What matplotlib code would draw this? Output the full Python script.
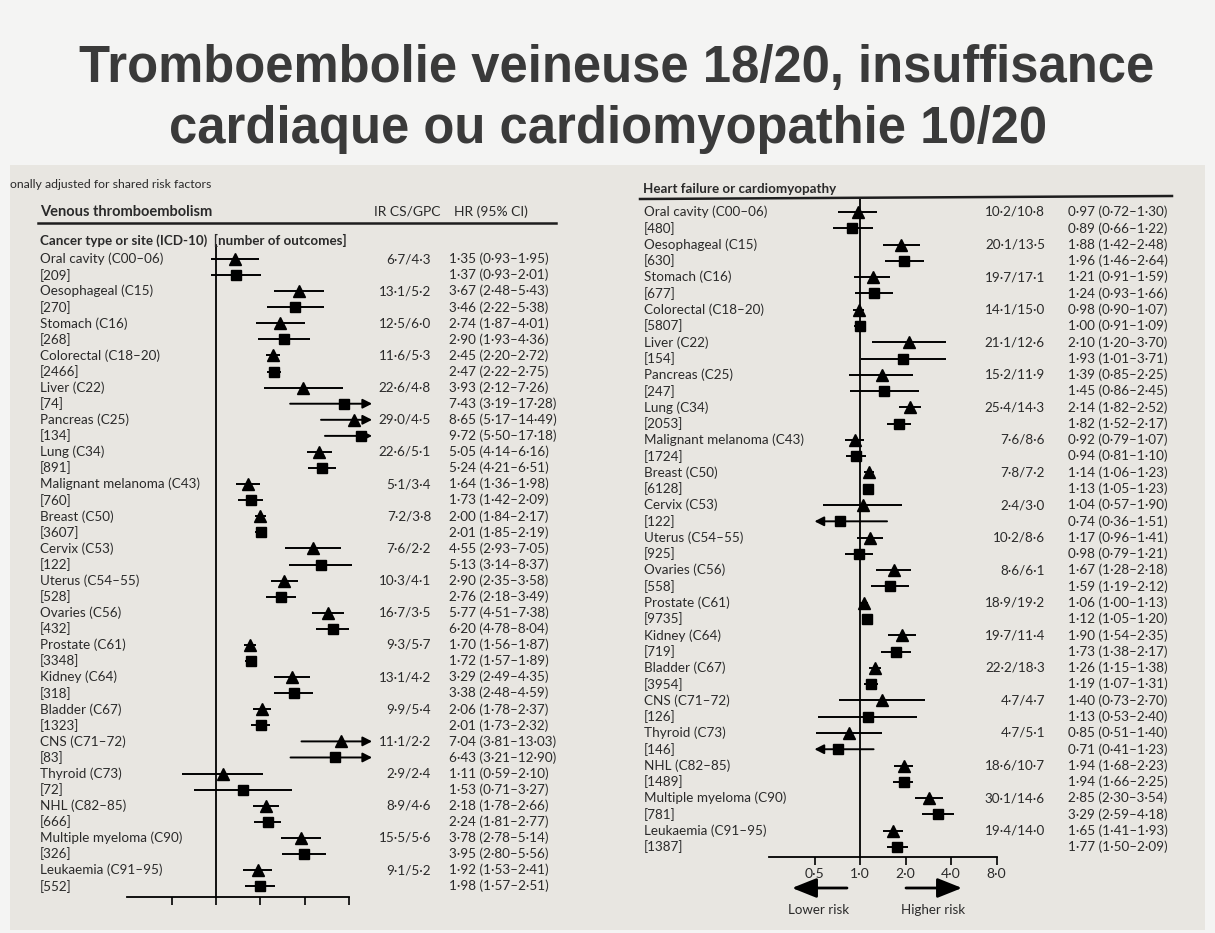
import matplotlib
matplotlib.use('Agg')
import matplotlib.pyplot as plt
from matplotlib.patches import Rectangle, FancyArrowPatch
from matplotlib.ticker import NullLocator, FixedLocator, FixedFormatter
from matplotlib.transforms import blended_transform_factory

# ---------------- data ----------------
cancers = ["Oral cavity (C00–06)", "Oesophageal (C15)", "Stomach (C16)", "Colorectal (C18–20)",
           "Liver (C22)", "Pancreas (C25)", "Lung (C34)", "Malignant melanoma (C43)", "Breast (C50)",
           "Cervix (C53)", "Uterus (C54–55)", "Ovaries (C56)", "Prostate (C61)", "Kidney (C64)",
           "Bladder (C67)", "CNS (C71–72)", "Thyroid (C73)", "NHL (C82–85)",
           "Multiple myeloma (C90)", "Leukaemia (C91–95)"]

# Venous thromboembolism
vte_n = [209, 270, 268, 2466, 74, 134, 891, 760, 3607, 122, 528, 432, 3348, 318, 1323, 83, 72, 666, 326, 552]
vte_ir = ["6·7/4·3", "13·1/5·2", "12·5/6·0", "11·6/5·3", "22·6/4·8", "29·0/4·5", "22·6/5·1", "5·1/3·4",
          "7·2/3·8", "7·6/2·2", "10·3/4·1", "16·7/3·5", "9·3/5·7", "13·1/4·2", "9·9/5·4", "11·1/2·2",
          "2·9/2·4", "8·9/4·6", "15·5/5·6", "9·1/5·2"]
vte_tri = [1.35, 3.67, 2.74, 2.45, 3.93, 8.65, 5.05, 1.64, 2.00, 4.55, 2.90, 5.77, 1.70, 3.29, 2.06, 7.04, 1.11, 2.18, 3.78, 1.92]
vte_tri_lo = [0.93, 2.48, 1.87, 2.20, 2.12, 5.17, 4.14, 1.36, 1.84, 2.93, 2.35, 4.51, 1.56, 2.49, 1.78, 3.81, 0.59, 1.78, 2.78, 1.53]
vte_tri_hi = [1.95, 5.43, 4.01, 2.72, 7.26, 14.49, 6.16, 1.98, 2.17, 7.05, 3.58, 7.38, 1.87, 4.35, 2.37, 13.03, 2.10, 2.66, 5.14, 2.41]
vte_sq = [1.37, 3.46, 2.90, 2.47, 7.43, 9.72, 5.24, 1.73, 2.01, 5.13, 2.76, 6.20, 1.72, 3.38, 2.01, 6.43, 1.53, 2.24, 3.95, 1.98]
vte_sq_lo = [0.93, 2.22, 1.93, 2.22, 3.19, 5.50, 4.21, 1.42, 1.85, 3.14, 2.18, 4.78, 1.57, 2.48, 1.73, 3.21, 0.71, 1.81, 2.80, 1.57]
vte_sq_hi = [2.01, 5.38, 4.36, 2.75, 17.28, 17.18, 6.51, 2.09, 2.19, 8.37, 3.49, 8.04, 1.89, 4.59, 2.32, 12.90, 3.27, 2.77, 5.56, 2.51]

# Heart failure or cardiomyopathy
hf_n = [480, 630, 677, 5807, 154, 247, 2053, 1724, 6128, 122, 925, 558, 9735, 719, 3954, 126, 146, 1489, 781, 1387]
hf_ir = ["10·2/10·8", "20·1/13·5", "19·7/17·1", "14·1/15·0", "21·1/12·6", "15·2/11·9", "25·4/14·3", "7·6/8·6",
         "7·8/7·2", "2·4/3·0", "10·2/8·6", "8·6/6·1", "18·9/19·2", "19·7/11·4", "22·2/18·3", "4·7/4·7",
         "4·7/5·1", "18·6/10·7", "30·1/14·6", "19·4/14·0"]
hf_tri = [0.97, 1.88, 1.21, 0.98, 2.10, 1.39, 2.14, 0.92, 1.14, 1.04, 1.17, 1.67, 1.06, 1.90, 1.26, 1.40, 0.85, 1.94, 2.85, 1.65]
hf_tri_lo = [0.72, 1.42, 0.91, 0.90, 1.20, 0.85, 1.82, 0.79, 1.06, 0.57, 0.96, 1.28, 1.00, 1.54, 1.15, 0.73, 0.51, 1.68, 2.30, 1.41]
hf_tri_hi = [1.30, 2.48, 1.59, 1.07, 3.70, 2.25, 2.52, 1.07, 1.23, 1.90, 1.41, 2.18, 1.13, 2.35, 1.38, 2.70, 1.40, 2.23, 3.54, 1.93]
hf_sq = [0.89, 1.96, 1.24, 1.00, 1.93, 1.45, 1.82, 0.94, 1.13, 0.74, 0.98, 1.59, 1.12, 1.73, 1.19, 1.13, 0.71, 1.94, 3.29, 1.77]
hf_sq_lo = [0.66, 1.46, 0.93, 0.91, 1.01, 0.86, 1.52, 0.81, 1.05, 0.36, 0.79, 1.19, 1.05, 1.38, 1.07, 0.53, 0.41, 1.66, 2.59, 1.50]
hf_sq_hi = [1.22, 2.64, 1.66, 1.09, 3.71, 2.45, 2.17, 1.10, 1.23, 1.51, 1.21, 2.12, 1.20, 2.17, 1.31, 2.40, 1.23, 2.25, 4.18, 2.09]

tick_vals = [0.5, 1, 2, 4, 8]
tick_labels = ["0·5", "1·0", "2·0", "4·0", "8·0"]

title_lines = ["Tromboembolie veineuse 18/20, insuffisance", "cardiaque ou cardiomyopathie 10/20"]

# ---------------- figure ----------------
W, H = 1215, 933
fig = plt.figure(figsize=(W / 100, H / 100), dpi=100)
fig.patch.set_facecolor('#f4f4f3')


def fx(px):
    return px / W


def fy(py):
    return 1 - py / H


fig.patches.append(Rectangle((fx(10), fy(930)), fx(1205) - fx(10), fy(165) - fy(930),
                             transform=fig.transFigure, facecolor='#e8e6e1', edgecolor='none', zorder=-5))

FONT = ['Lato', 'DejaVu Sans']
TXT = '#2a2a2a'
FS = 9.7

fig.text(fx(617), fy(68), title_lines[0], ha='center', va='center', fontsize=36.5, fontweight='bold',
         color='#3a3a3a', family=['Liberation Sans', 'DejaVu Sans'])
fig.text(fx(608), fy(130), title_lines[1], ha='center', va='center', fontsize=36.5, fontweight='bold',
         color='#3a3a3a', family=['Liberation Sans', 'DejaVu Sans'])


def make_axes(x_one_px, px_per_doubling, row0_px, row_step, ytop_px, ybot_px):
    x0 = x_one_px - 2 * px_per_doubling
    ax = fig.add_axes([fx(x0), fy(ybot_px), 6 * px_per_doubling / W, (ybot_px - ytop_px) / H])
    ax.set_xscale('log', base=2)
    ax.set_xlim(0.25, 16)

    def row(py):
        return (py - row0_px) / row_step
    ax.set_ylim(row(ybot_px), row(ytop_px))
    ax.set_autoscale_on(False)
    ax.patch.set_alpha(0)
    for s in ['top', 'right']:
        ax.spines[s].set_visible(False)
    ax.set_yticks([])
    ax.xaxis.set_minor_locator(NullLocator())
    return ax, row


def draw_ci(ax, lo, hi, r, lo_clip, hi_clip, tip_lo, tip_hi):
    ap = dict(arrowstyle='-|>,head_length=0.55,head_width=0.28', color='k', lw=1.4,
              shrinkA=0, shrinkB=0)
    if hi > hi_clip:
        ax.annotate('', xy=(tip_hi, r), xytext=(lo, r), arrowprops=ap, annotation_clip=False)
    elif lo < lo_clip:
        ax.annotate('', xy=(tip_lo, r), xytext=(hi, r), arrowprops=ap, annotation_clip=False)
    else:
        ax.plot([lo, hi], [r, r], color='k', lw=1.4, solid_capstyle='butt', clip_on=False)


def draw_panel(ax, tri, tlo, thi, sq, slo, shi, lo_clip, hi_clip, tip_lo, tip_hi):
    for i in range(len(tri)):
        rt, rs = 2 * i, 2 * i + 1
        draw_ci(ax, tlo[i], thi[i], rt, lo_clip, hi_clip, tip_lo, tip_hi)
        draw_ci(ax, slo[i], shi[i], rs, lo_clip, hi_clip, tip_lo, tip_hi)
        ax.plot([tri[i]], [rt], marker='^', ms=8.5, color='k', clip_on=False, zorder=3)
        ax.plot([sq[i]], [rs], marker='s', ms=7, color='k', clip_on=False, zorder=3)


def fmt(v, lo, hi):
    return f"{v:.2f} ({lo:.2f}–{hi:.2f})".replace('.', '·')


# ---------------- left panel: VTE ----------------
axL, rowL = make_axes(216, 44.3, 259, 16.08, 230, 910)
draw_panel(axL, vte_tri, vte_tri_lo, vte_tri_hi, vte_sq, vte_sq_lo, vte_sq_hi, 0.0, 9.0, 0.25, 11.5)
axL.spines['left'].set_position(('data', 1))
axL.spines['left'].set_bounds(rowL(897), rowL(245))
axL.spines['bottom'].set_position(('data', rowL(897)))
axL.spines['bottom'].set_bounds(0.25, 8)
axL.xaxis.set_major_locator(FixedLocator(tick_vals))
axL.xaxis.set_major_formatter(FixedFormatter([''] * len(tick_vals)))
axL.tick_params(axis='x', direction='out', length=6, width=1.2)
for s in ['left', 'bottom']:
    axL.spines[s].set_linewidth(1.3)

trL = blended_transform_factory(fig.transFigure, axL.transData)
for i, c in enumerate(cancers):
    axL.text(fx(40), 2 * i, c, transform=trL, va='center', ha='left', fontsize=FS, color=TXT, family=FONT)
    axL.text(fx(40), 2 * i + 1, f"[{vte_n[i]}]", transform=trL, va='center', ha='left', fontsize=FS,
             color=TXT, family=FONT)
    axL.text(fx(431), 2 * i, vte_ir[i], transform=trL, va='center', ha='right', fontsize=FS, color=TXT, family=FONT)
    axL.text(fx(449), 2 * i, fmt(vte_tri[i], vte_tri_lo[i], vte_tri_hi[i]),
             transform=trL, va='center', ha='left', fontsize=FS, color=TXT, family=FONT)
    axL.text(fx(449), 2 * i + 1, fmt(vte_sq[i], vte_sq_lo[i], vte_sq_hi[i]),
             transform=trL, va='center', ha='left', fontsize=FS, color=TXT, family=FONT)

fig.text(fx(10), fy(185), "onally adjusted for shared risk factors", va='center', ha='left', fontsize=8.8,
         color=TXT, family=FONT)
fig.text(fx(40), fy(212), "Venous thromboembolism", va='center', ha='left', fontsize=10.5,
         fontweight='bold', color=TXT, family=FONT)
fig.text(fx(374), fy(212), "IR CS/GPC", va='center', ha='left', fontsize=10,
         color=TXT, family=FONT)
fig.text(fx(454), fy(212), "HR (95% CI)", va='center', ha='left', fontsize=10,
         color=TXT, family=FONT)
fig.lines.append(plt.Line2D([fx(38), fx(556)], [fy(223), fy(223)], transform=fig.transFigure,
                            color='#1e1e1e', lw=1.8))
fig.text(fx(40), fy(240), "Cancer type or site (ICD-10)  [number of outcomes]", va='center', ha='left',
         fontsize=9.6, fontweight='bold', color=TXT, family=FONT)

# ---------------- right panel: Heart failure ----------------
axR, rowR = make_axes(860, 45.5, 212, 16.28, 190, 880)
draw_panel(axR, hf_tri, hf_tri_lo, hf_tri_hi, hf_sq, hf_sq_lo, hf_sq_hi, 0.5, 99, 0.5, 99)
axR.spines['left'].set_position(('data', 1))
axR.spines['left'].set_bounds(rowR(857), rowR(198))
axR.spines['bottom'].set_position(('data', rowR(857)))
axR.spines['bottom'].set_bounds(0.25, 8)
axR.xaxis.set_major_locator(FixedLocator(tick_vals))
axR.xaxis.set_major_formatter(FixedFormatter(tick_labels))
axR.tick_params(axis='x', direction='out', length=6, width=1.2, labelsize=10, labelcolor=TXT, pad=2)
for lab in axR.get_xticklabels():
    lab.set_family(FONT)
for s in ['left', 'bottom']:
    axR.spines[s].set_linewidth(1.3)

trR = blended_transform_factory(fig.transFigure, axR.transData)
for i, c in enumerate(cancers):
    axR.text(fx(644), 2 * i, c, transform=trR, va='center', ha='left', fontsize=FS, color=TXT, family=FONT)
    axR.text(fx(644), 2 * i + 1, f"[{hf_n[i]}]", transform=trR, va='center', ha='left', fontsize=FS,
             color=TXT, family=FONT)
    axR.text(fx(1045), 2 * i, hf_ir[i], transform=trR, va='center', ha='right', fontsize=FS, color=TXT, family=FONT)
    axR.text(fx(1068), 2 * i, fmt(hf_tri[i], hf_tri_lo[i], hf_tri_hi[i]),
             transform=trR, va='center', ha='left', fontsize=FS, color=TXT, family=FONT)
    axR.text(fx(1068), 2 * i + 1, fmt(hf_sq[i], hf_sq_lo[i], hf_sq_hi[i]),
             transform=trR, va='center', ha='left', fontsize=FS, color=TXT, family=FONT)

fig.text(fx(643), fy(189), "Heart failure or cardiomyopathy", va='center', ha='left', fontsize=9.6,
         fontweight='bold', color=TXT, family=FONT)
fig.lines.append(plt.Line2D([fx(640), fx(1172)], [fy(199), fy(196)], transform=fig.transFigure,
                            color='#1e1e1e', lw=1.8))

# lower / higher risk arrows
arr = dict(arrowstyle='-|>,head_length=1.5,head_width=0.6', color='k', lw=2, shrinkA=0, shrinkB=0,
           mutation_scale=10, transform=fig.transFigure)
fig.add_artist(FancyArrowPatch((fx(847), fy(888)), (fx(792), fy(888)), **arr))
fig.add_artist(FancyArrowPatch((fx(906), fy(888)), (fx(962), fy(888)), **arr))
fig.text(fx(819), fy(910), "Lower risk", ha='center', va='center', fontsize=9.6, color=TXT, family=FONT)
fig.text(fx(933), fy(910), "Higher risk", ha='center', va='center', fontsize=9.6, color=TXT, family=FONT)

fig.savefig('out.png', dpi=100, facecolor=fig.get_facecolor())
